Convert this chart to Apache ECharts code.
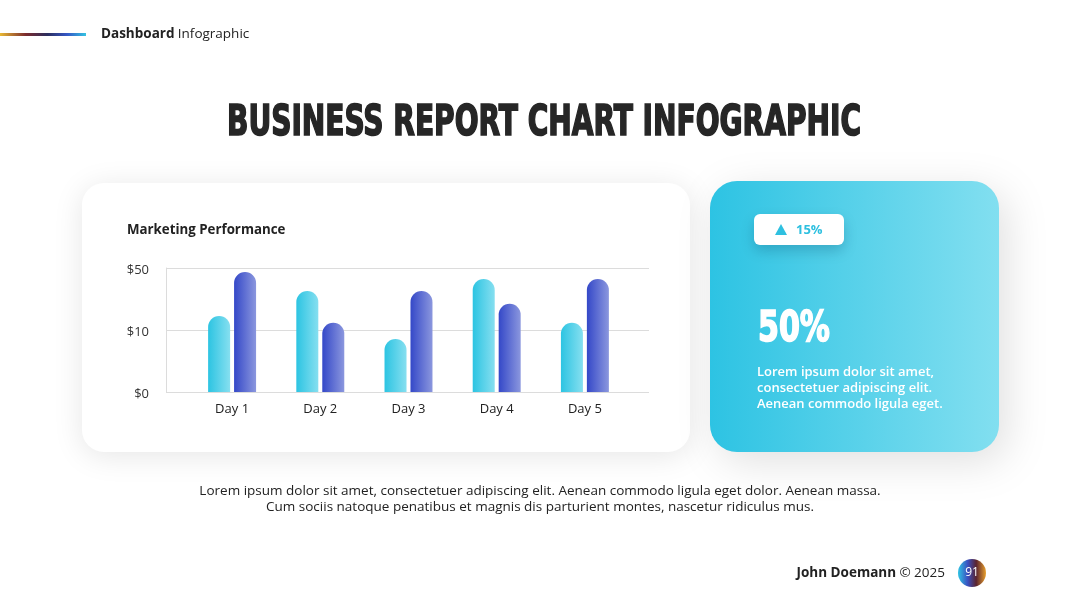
<!DOCTYPE html>
<html>
<head>
<meta charset="utf-8">
<title>Business Report Chart Infographic</title>
<script src="https://cdn.jsdelivr.net/npm/echarts@6/dist/echarts.min.js"></script>
<style>
  html, body { margin: 0; padding: 0; background: #fff; }
  #chart { width: 1080px; height: 608px; }
</style>
</head>
<body>
<div id="chart"></div>
<script>
// data
const days = ['Day 1', 'Day 2', 'Day 3', 'Day 4', 'Day 5'];
const seriesA = [30.6, 40.7, 21.4, 45.6, 27.9];   // light cyan bars
const seriesB = [48.4, 27.9, 40.7, 35.6, 45.6];   // dark blue bars
const tickLabels = ['$0', '$10', '$50'];

const chart = echarts.init(document.getElementById('chart'));
const sans = '"Open Sans", "Noto Sans", sans-serif';
const narrow = '"DejaVu Sans Condensed", "Liberation Sans Narrow", sans-serif';

// squeeze a heavy font to a target width (no condensed display font available)
function fitScale(text, font, target) {
  const ctx = document.createElement('canvas').getContext('2d');
  ctx.font = font;
  return target / ctx.measureText(text).width;
}
const titleText = 'BUSINESS REPORT CHART INFOGRAPHIC';
const titleScale = fitScale(titleText, 'bold 42px "DejaVu Sans Condensed"', 634);
const bigScale = fitScale('50%', 'bold 42px "DejaVu Sans Condensed"', 72);

const grad = (c1, c2) => new echarts.graphic.LinearGradient(0, 0, 1, 0, [
  { offset: 0, color: c1 }, { offset: 1, color: c2 }
]);

const option = {
  animation: false,
  graphic: [
    // header
    { type: 'rect', shape: { x: 0, y: 33, width: 86, height: 3 },
      style: { fill: new echarts.graphic.LinearGradient(0, 0, 1, 0, [
        { offset: 0, color: '#e9b934' }, { offset: 0.3, color: '#7b2b2e' },
        { offset: 0.55, color: '#2b2d5e' }, { offset: 0.78, color: '#3557c6' },
        { offset: 1, color: '#33c3e2' }]) } },
    { type: 'text', x: 101, y: 34,
      style: { text: '{b|Dashboard} {r|Infographic}', verticalAlign: 'middle',
        rich: { b: { fontFamily: sans, fontSize: 13.5, fontWeight: 'bold', fill: '#222' },
                r: { fontFamily: sans, fontSize: 13.5, fill: '#222' } } } },
    // title
    { type: 'text', x: 544, y: 124, scaleX: titleScale,
      style: { text: titleText, x: 0, y: 0, textAlign: 'center', textVerticalAlign: 'middle',
        font: 'bold 42px ' + narrow, fill: '#262626', stroke: '#262626', lineWidth: 1.6 } },
    // left card
    { type: 'rect', z: -10, shape: { x: 82, y: 183, width: 608, height: 269, r: 22 },
      style: { fill: '#fff', shadowBlur: 30, shadowColor: 'rgba(0,0,0,0.10)', shadowOffsetY: 4 } },
    { type: 'text', x: 127, y: 230,
      style: { text: 'Marketing Performance', verticalAlign: 'middle',
        font: 'bold 13.3px ' + sans, fill: '#222' } },
    // right card
    { type: 'rect', z: -10, shape: { x: 710, y: 181, width: 289, height: 271, r: 27 },
      style: { fill: grad('#2dc3e3', '#82dff0'), shadowBlur: 40,
        shadowColor: 'rgba(0,0,0,0.12)', shadowOffsetX: 8, shadowOffsetY: 10 } },
    { type: 'rect', shape: { x: 754, y: 214, width: 90, height: 31, r: 6 },
      style: { fill: '#fff', shadowBlur: 14, shadowColor: 'rgba(0,60,90,0.25)', shadowOffsetY: 6 } },
    { type: 'polygon', shape: { points: [[775, 235], [787, 235], [781, 224]] },
      style: { fill: '#2ec0e0' } },
    { type: 'text', x: 796, y: 230,
      style: { text: '15%', verticalAlign: 'middle', font: 'bold 13px ' + sans, fill: '#2ec0e0' } },
    { type: 'text', x: 758, y: 330, scaleX: bigScale,
      style: { text: '50%', x: 0, y: 0, textVerticalAlign: 'middle',
        font: 'bold 42px ' + narrow, fill: '#fff', stroke: '#fff', lineWidth: 1.6 } },
    { type: 'text', x: 757, y: 364,
      style: { text: 'Lorem ipsum dolor sit amet,\nconsectetuer adipiscing elit.\nAenean commodo ligula eget.',
        lineHeight: 16, font: '600 13px ' + sans, fill: '#fff' } },
    // bottom paragraph
    { type: 'text', x: 540, y: 483,
      style: { text: 'Lorem ipsum dolor sit amet, consectetuer adipiscing elit. Aenean commodo ligula eget dolor. Aenean massa.\nCum sociis natoque penatibus et magnis dis parturient montes, nascetur ridiculus mus.',
        textAlign: 'center', lineHeight: 16, font: '13.5px ' + sans, fill: '#222' } },
    // footer
    { type: 'text', x: 945, y: 573,
      style: { text: '{b|John Doemann} {r|© 2025}', textAlign: 'right', verticalAlign: 'middle',
        rich: { b: { fontFamily: sans, fontSize: 13.5, fontWeight: 'bold', fill: '#222' },
                r: { fontFamily: sans, fontSize: 13.5, fill: '#222' } } } },
    { type: 'circle', shape: { cx: 972, cy: 573, r: 14 },
      style: { fill: new echarts.graphic.LinearGradient(0, 0, 1, 0, [
        { offset: 0, color: '#2fc4e4' }, { offset: 0.35, color: '#3a4fc0' },
        { offset: 0.65, color: '#5a2430' }, { offset: 1, color: '#e9a02c' }]) } },
    { type: 'text', x: 972, y: 573,
      style: { text: '91', textAlign: 'center', verticalAlign: 'middle',
        font: '12px ' + sans, fill: '#fff' } }
  ],
  grid: [
    { left: 166, right: 431, top: 268, bottom: 216 },
    { left: 188, right: 451, top: 268, bottom: 216 }
  ],
  xAxis: [
    { gridIndex: 0, type: 'category', data: days, show: false },
    { gridIndex: 1, type: 'category', data: days,
      axisLine: { show: false }, axisTick: { show: false },
      axisLabel: { color: '#222', fontFamily: sans, fontSize: 13, margin: 11 } }
  ],
  yAxis: [
    { gridIndex: 0, type: 'value', min: 0, max: 50, interval: 25,
      axisLine: { show: true, lineStyle: { color: '#dcdcdc' } },
      axisTick: { show: false },
      splitLine: { lineStyle: { color: '#dcdcdc' } },
      axisLabel: { color: '#333', fontFamily: sans, fontSize: 13, margin: 17,
        formatter: v => '{t|' + tickLabels[Math.round(v / 25)] + '}',
        rich: { t: { color: '#333', fontFamily: sans, fontSize: 13, padding: [5, 0, 0, 0] } } } },
    { gridIndex: 1, type: 'value', min: 0, max: 50, show: false }
  ],
  series: [
    { type: 'bar', xAxisIndex: 1, yAxisIndex: 1, data: seriesA,
      barWidth: 22, barGap: '18%',
      itemStyle: { color: grad('#2cc4e2', '#86dff0'), borderRadius: [11, 11, 0, 0] } },
    { type: 'bar', xAxisIndex: 1, yAxisIndex: 1, data: seriesB,
      barWidth: 22, barGap: '18%',
      itemStyle: { color: grad('#3448c8', '#8b97de'), borderRadius: [11, 11, 0, 0] } }
  ]
};
chart.setOption(option);
</script>
</body>
</html>
